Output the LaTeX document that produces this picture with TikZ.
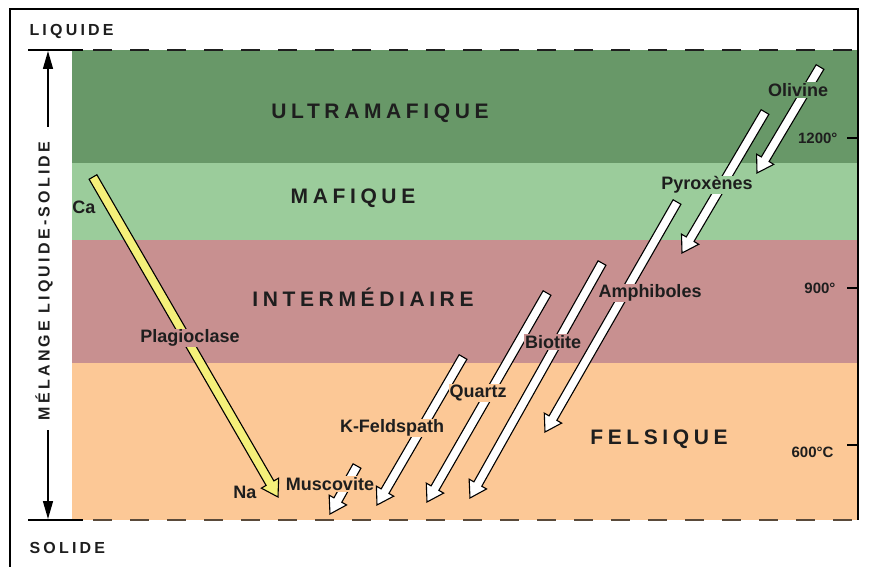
\documentclass[tikz,border=0pt]{standalone}
\usepackage{fontspec}
\setmainfont{Liberation Sans}
\newfontfamily\bandfont[LetterSpace=22]{Liberation Sans}
\newfontfamily\axisfont[LetterSpace=20]{Liberation Sans}
\usetikzlibrary{arrows.meta,calc}
\definecolor{cUltra}{HTML}{689868}
\definecolor{cMafic}{HTML}{9BCC9B}
\definecolor{cInter}{HTML}{C89090}
\definecolor{cFelsic}{HTML}{FCC896}
\definecolor{cPlag}{HTML}{F5F07A}
\definecolor{cText}{HTML}{1E1E1E}
\definecolor{cDash}{HTML}{5A4A3A}
\newcommand\shaftw{4.5pt}
\newcommand\headw{10pt}
\newcommand\headl{16pt}
% fat hollow arrow from a start coordinate to a tip coordinate
\newcommand\crystarrow[3][white]{%
  \filldraw[crystal, fill=#1]
    ($(#2)!\shaftw!90:(#3)$) -- ($(#3)!\headl!(#2)!\shaftw!-90:(#2)$)
    -- ($(#3)!\headl!(#2)!\headw!-90:(#2)$) -- (#3)
    -- ($(#3)!\headl!(#2)!\headw!90:(#2)$)
    -- ($(#3)!\headl!(#2)!\shaftw!90:(#2)$)
    -- ($(#2)!\shaftw!-90:(#3)$) -- cycle;}
\tikzset{
  crystal/.style={draw=black, line width=1.1pt, line join=miter},
  band/.style={font=\bandfont\bfseries\fontsize{21}{24}\selectfont, text=cText},
  mineral/.style={font=\bfseries\fontsize{18}{20}\selectfont, text=cText, inner sep=1pt},
  temp/.style={font=\bfseries\fontsize{15}{17}\selectfont, text=cText},
  axis/.style={font=\axisfont\bfseries\fontsize{16}{18}\selectfont, text=cText}
}

\begin{document}
\begin{tikzpicture}[x=1pt, y=-1pt]
  \useasboundingbox (0,0) rectangle (872,567);
  % bands
  \fill[cUltra] (72,50) rectangle (857,163);
  \fill[cMafic] (72,163) rectangle (857,240);
  \fill[cInter] (72,240) rectangle (857,363);
  \fill[cFelsic] (72,363) rectangle (857,520);
  \draw[black, line width=2pt] (10,567) -- (10,9) -- (858,9) -- (858,520);

  \draw[line width=1.5pt] (28,50) -- (83,50);
  \draw[cText, line width=2pt, dash pattern=on 19pt off 18pt] (93,50) -- (857,50);
  \draw[line width=1.5pt] (28,520) -- (83,520);
  \draw[cDash, line width=2pt, dash pattern=on 19pt off 18pt] (93,520) -- (857,520);

  \node[band] (ultra) at (380,113) {ULTRAMAFIQUE};
  \node[band] (mafic) at (353,198) {MAFIQUE};
  \node[band] (inter) at (363,297) {INTERMÉDIAIRE};
  \node[band] (felsic) at (659,439) {FELSIQUE};

  % left axis
  \node[axis, anchor=west] (liquid) at (26,31) {LIQUIDE};
  \node[axis, anchor=west] (solid) at (26,548) {SOLIDE};
  \node[axis, rotate=90] (melange) at (44,281) {MÉLANGE LIQUIDE-SOLIDE};
  \draw[line width=1.5pt, -{Triangle[length=18pt,width=10pt]}] (48,127) -- (48,51);
  \draw[line width=1.5pt, -{Triangle[length=18pt,width=10pt]}] (48,430) -- (48,519);

  % temperatures
  \draw[line width=1.5pt] (847,138) -- (858,138);
  \draw[line width=1.5pt] (847,288) -- (858,288);
  \draw[line width=1.5pt] (847,445) -- (858,445);
  \node[temp, anchor=east] (t1200) at (841,138) {1200°};
  \node[temp, anchor=east] (t900) at (839,288) {900°};
  \node[temp, anchor=east] (t600) at (837,452) {600°C};

  % crystallisation arrows
  \coordinate (plagS) at (93,177);  \coordinate (plagT) at (278,497);
  \coordinate (muscS) at (357,466); \coordinate (muscT) at (330,514);
  \coordinate (kfelS) at (463,357); \coordinate (kfelT) at (377,505);
  \coordinate (quarS) at (547,293); \coordinate (quarT) at (427,502);
  \coordinate (bioS) at (602,263);  \coordinate (bioT) at (470,498);
  \coordinate (amphS) at (677,202); \coordinate (amphT) at (545,432);
  \coordinate (pyroS) at (765,112); \coordinate (pyroT) at (682,253);
  \coordinate (oliS) at (820,67);   \coordinate (oliT) at (757,173);

  \crystarrow[cPlag]{plagS}{plagT}
  \node[mineral, fill=cInter] (plag) at (190,338) {Plagioclase};
  \node[mineral] (ca) at (84,207) {Ca};
  \node[mineral] (na) at (245,492) {Na};

  \crystarrow{muscS}{muscT}
  \node[mineral, fill=cFelsic] (musc) at (330,484) {Muscovite};
  \crystarrow{kfelS}{kfelT}
  \node[mineral, fill=cFelsic] (kfel) at (392,428) {K-Feldspath};
  \crystarrow{quarS}{quarT}
  \node[mineral, fill=cFelsic] (quar) at (478,393) {Quartz};
  \crystarrow{bioS}{bioT}
  \node[mineral, fill=cInter] (bio) at (553,342) {Biotite};
  \crystarrow{amphS}{amphT}
  \node[mineral, fill=cInter] (amph) at (650,293) {Amphiboles};
  \crystarrow{pyroS}{pyroT}
  \node[mineral, fill=cMafic] (pyro) at (707,185) {Pyroxènes};
  \crystarrow{oliS}{oliT}
  \node[mineral, fill=cUltra] (oli) at (798,90) {Olivine};
\end{tikzpicture}
\end{document}
